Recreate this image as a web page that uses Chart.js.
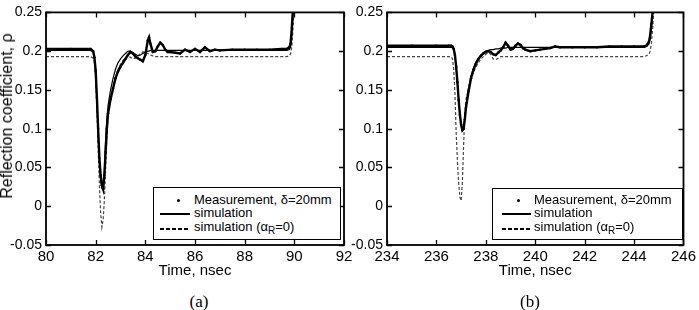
<!DOCTYPE html>
<html>
<head>
<meta charset="utf-8">
<script src="https://cdn.jsdelivr.net/npm/chart.js@4.4.1/dist/chart.umd.min.js"></script>
<style>
    body { margin: 0; background: #fff; width: 699px; height: 310px; position: relative; overflow: hidden;
           font-family: "Liberation Sans", Arial, sans-serif; color: #000; }
    canvas { position: absolute; top: 0; }
    #plotA { left: 0; }
    #plotB { left: 350px; }
    .legend { position: absolute; box-sizing: border-box; border: 1px solid #000; background: #fff; font-size: 13px; }
    .legend .txt { position: absolute; white-space: nowrap; line-height: 14px; }
    .legend .dot { position: absolute; width: 3px; height: 3px; background: #000; border-radius: 50%; }
    .legend .solid { position: absolute; height: 2px; background: #000; }
    .legend .dash { position: absolute; height: 2px;
                    background: repeating-linear-gradient(90deg, #000 0 4px, transparent 4px 6px); }
    .legend sub { font-size: 10px; vertical-align: -3px; line-height: 0; }
    .ytitle { position: absolute; left: 7px; top: 116px; font-size: 16px; white-space: nowrap;
              transform: translate(-50%, -50%) rotate(-90deg); }
    .caption { position: absolute; top: 302px; font-family: "Liberation Serif", "Times New Roman", serif;
               font-size: 17px; transform: translate(-50%, -50%); }
</style>
</head>
<body>
<canvas id="plotA" width="362" height="290"></canvas>
<canvas id="plotB" width="349" height="290"></canvas>

<div class="ytitle">Reflection coefficient, ρ</div>

<div class="legend" style="left:153px;top:187px;width:188px;height:53px">
    <span class="dot" style="left:23px;top:11px"></span>
    <span class="txt" style="left:40px;top:5px">Measurement, δ=20mm</span>
    <span class="solid" style="left:6px;top:25px;width:30px"></span>
    <span class="txt" style="left:40px;top:18px">simulation</span>
    <span class="dash" style="left:6px;top:40px;width:30px"></span>
    <span class="txt" style="left:40px;top:32px">simulation (α<sub>R</sub>=0)</span>
</div>
<div class="legend" style="left:492px;top:188px;width:191px;height:52px">
    <span class="dot" style="left:24px;top:10px"></span>
    <span class="txt" style="left:41px;top:4px">Measurement, δ=20mm</span>
    <span class="solid" style="left:9px;top:24px;width:29px"></span>
    <span class="txt" style="left:41px;top:17px">simulation</span>
    <span class="dash" style="left:9px;top:39px;width:29px"></span>
    <span class="txt" style="left:41px;top:31px">simulation (α<sub>R</sub>=0)</span>
</div>

<div class="caption" style="left:199px">(a)</div>
<div class="caption" style="left:530px">(b)</div>

<script>
// (a) first reflection, 80-92 ns
const timeA = [80, 81, 81.8, 81.9, 81.95, 82.0, 82.05, 82.1, 82.15, 82.2,
    82.25, 82.3, 82.35, 82.4, 82.45, 82.5, 82.6, 82.7, 82.8, 82.9,
    83.0, 83.1, 83.2, 83.3, 83.4, 83.5, 83.6, 83.7, 83.8, 83.9,
    84.0, 84.1, 84.15, 84.2, 84.3, 84.4, 84.5, 84.6, 84.7, 84.8,
    84.9, 85.0, 85.2, 85.4, 85.6, 85.8, 86.0, 86.2, 86.4, 86.6,
    86.8, 87.0, 87.5, 88, 88.5, 89, 89.5, 89.7, 89.8, 89.85,
    89.9, 89.95, 90.0];
const measA = [0.203, 0.203, 0.203, 0.200, 0.192, 0.175, 0.140, 0.100, 0.062, 0.040,
    0.027, 0.022, 0.040, 0.070, 0.100, 0.120, 0.138, 0.152, 0.165, 0.174,
    0.180, 0.185, 0.190, 0.195, 0.199, 0.197, 0.193, 0.191, 0.189, 0.187,
    0.195, 0.214, 0.218, 0.210, 0.199, 0.200, 0.206, 0.211, 0.208, 0.202,
    0.199, 0.199, 0.198, 0.197, 0.202, 0.199, 0.203, 0.199, 0.205, 0.200,
    0.202, 0.201, 0.202, 0.202, 0.202, 0.202, 0.203, 0.203, 0.205, 0.210,
    0.230, 0.260, 0.300];
const simA = [0.201, 0.201, 0.201, 0.199, 0.190, 0.172, 0.135, 0.092, 0.056, 0.034,
    0.023, 0.022, 0.045, 0.085, 0.113, 0.130, 0.150, 0.165, 0.177, 0.185,
    0.190, 0.194, 0.197, 0.200, 0.200, 0.198, 0.196, 0.194, 0.195, 0.197,
    0.199, 0.200, 0.200, 0.201, 0.201, 0.201, 0.201, 0.201, 0.201, 0.201,
    0.201, 0.201, 0.201, 0.201, 0.201, 0.201, 0.201, 0.201, 0.201, 0.201,
    0.201, 0.201, 0.201, 0.201, 0.201, 0.201, 0.201, 0.201, 0.202, 0.206,
    0.222, 0.250, 0.290];
const simNoLossA = [0.193, 0.193, 0.193, 0.191, 0.185, 0.165, 0.125, 0.075, 0.028, -0.008,
    -0.027, -0.018, 0.008, 0.048, 0.088, 0.115, 0.140, 0.155, 0.167, 0.176,
    0.183, 0.188, 0.192, 0.194, 0.192, 0.190, 0.191, 0.194, 0.197, 0.199,
    0.199, 0.197, 0.196, 0.195, 0.194, 0.193, 0.193, 0.193, 0.193, 0.193,
    0.193, 0.193, 0.193, 0.193, 0.193, 0.193, 0.193, 0.193, 0.193, 0.193,
    0.193, 0.193, 0.193, 0.193, 0.193, 0.193, 0.193, 0.193, 0.194, 0.197,
    0.206, 0.230, 0.270];

// (b) second reflection, 234-246 ns
const timeB = [234, 235, 236, 236.5, 236.6, 236.65, 236.7, 236.75, 236.8, 236.85,
    236.9, 236.95, 237.0, 237.05, 237.1, 237.15, 237.2, 237.3, 237.4, 237.5,
    237.6, 237.7, 237.8, 237.9, 238.0, 238.1, 238.2, 238.3, 238.4, 238.5,
    238.6, 238.7, 238.8, 238.9, 239.0, 239.1, 239.2, 239.3, 239.4, 239.5,
    239.6, 239.8, 240.0, 240.2, 240.4, 240.6, 240.8, 241.0, 241.5, 242,
    242.5, 243, 243.5, 244, 244.4, 244.5, 244.6, 244.65, 244.7, 244.75,
    244.8, 245];
const measB = [0.207, 0.207, 0.207, 0.207, 0.207, 0.206, 0.203, 0.195, 0.180, 0.160,
    0.137, 0.118, 0.105, 0.098, 0.100, 0.112, 0.128, 0.148, 0.165, 0.176,
    0.184, 0.190, 0.194, 0.197, 0.199, 0.200, 0.199, 0.196, 0.195, 0.198,
    0.201, 0.205, 0.211, 0.207, 0.202, 0.203, 0.207, 0.210, 0.208, 0.204,
    0.202, 0.200, 0.201, 0.202, 0.203, 0.204, 0.206, 0.205, 0.205, 0.205,
    0.205, 0.206, 0.206, 0.206, 0.206, 0.207, 0.212, 0.220, 0.235, 0.250,
    0.270, 0.320];
const simB = [0.205, 0.205, 0.205, 0.205, 0.205, 0.204, 0.202, 0.193, 0.178, 0.158,
    0.138, 0.120, 0.107, 0.100, 0.103, 0.115, 0.130, 0.152, 0.168, 0.178,
    0.186, 0.191, 0.195, 0.198, 0.200, 0.201, 0.202, 0.202, 0.203, 0.203,
    0.204, 0.204, 0.204, 0.205, 0.205, 0.205, 0.205, 0.205, 0.205, 0.205,
    0.205, 0.205, 0.205, 0.205, 0.205, 0.205, 0.205, 0.205, 0.205, 0.205,
    0.205, 0.205, 0.205, 0.205, 0.205, 0.206, 0.209, 0.216, 0.230, 0.248,
    0.265, 0.320];
const simNoLossB = [0.193, 0.193, 0.193, 0.193, 0.193, 0.190, 0.177, 0.145, 0.095, 0.058,
    0.030, 0.012, 0.007, 0.030, 0.078, 0.122, 0.138, 0.152, 0.164, 0.173,
    0.180, 0.185, 0.190, 0.193, 0.196, 0.198, 0.196, 0.190, 0.189, 0.191,
    0.193, 0.193, 0.193, 0.193, 0.193, 0.193, 0.193, 0.193, 0.193, 0.193,
    0.193, 0.193, 0.193, 0.193, 0.193, 0.193, 0.193, 0.193, 0.193, 0.193,
    0.193, 0.193, 0.193, 0.193, 0.193, 0.194, 0.196, 0.200, 0.210, 0.228,
    0.255, 0.330];

const yRange = [-0.05, 0.25];
const xRangeA = [80, 92];
const xRangeB = [234, 246];

Chart.defaults.font.family = "'Liberation Sans', Arial, sans-serif";
Chart.defaults.color = "#000";

// matlab-like box with inward ticks on all four sides
const boxTicks = {
    id: "boxTicks",
    afterDatasetsDraw(chart) {
        const { ctx, chartArea: a, scales: { x, y } } = chart;
        const len = 5;
        ctx.save();
        ctx.strokeStyle = "#000";
        ctx.lineWidth = 1.3;
        ctx.beginPath();
        x.ticks.forEach((t) => {
            const px = Math.round(x.getPixelForValue(t.value)) + 0.5;
            ctx.moveTo(px, a.bottom);
            ctx.lineTo(px, a.bottom - len);
            ctx.moveTo(px, a.top);
            ctx.lineTo(px, a.top + len);
        });
        y.ticks.forEach((t) => {
            const py = Math.round(y.getPixelForValue(t.value)) + 0.5;
            ctx.moveTo(a.left, py);
            ctx.lineTo(a.left + len, py);
            ctx.moveTo(a.right, py);
            ctx.lineTo(a.right - len, py);
        });
        ctx.stroke();
        ctx.lineWidth = 1.8;
        ctx.strokeRect(a.left, a.top, a.right - a.left, a.bottom - a.top);
        ctx.restore();
    },
};

const pairs = (xs, ys) => xs.map((t, i) => ({ x: t, y: ys[i] }));

function drawPlot(id, times, meas, sim, simNoLoss, xRange, yAxisWidth, padRight) {
    return new Chart(document.getElementById(id), {
        type: "line",
        data: {
            datasets: [
                {
                    label: "Measurement, δ=20mm",
                    data: pairs(times, meas),
                    borderColor: "#000",
                    borderWidth: 2.4,
                    pointRadius: 1.2,
                    pointBackgroundColor: "#000",
                    pointBorderWidth: 0,
                },
                {
                    label: "simulation",
                    data: pairs(times, sim),
                    borderColor: "#000",
                    borderWidth: 1.2,
                    pointRadius: 0,
                },
                {
                    label: "simulation (αR=0)",
                    data: pairs(times, simNoLoss),
                    borderColor: "#444",
                    borderWidth: 1.2,
                    borderDash: [3, 2],
                    pointRadius: 0,
                },
            ],
        },
        options: {
            responsive: false,
            animation: false,
            layout: { padding: { top: 8, right: padRight, left: 0, bottom: 0 } },
            elements: { line: { tension: 0 } },
            plugins: { legend: { display: false }, tooltip: { enabled: false } },
            scales: {
                x: {
                    type: "linear",
                    min: xRange[0],
                    max: xRange[1],
                    grid: { display: false, drawTicks: false },
                    border: { display: false },
                    ticks: { stepSize: 2, padding: 3, maxRotation: 0, autoSkip: false, font: { size: 15 } },
                    title: { display: true, text: "Time, nsec", font: { size: 15 }, padding: { top: 0, bottom: 10 } },
                    afterFit: (s) => { s.height = 45; },
                },
                y: {
                    min: yRange[0],
                    max: yRange[1],
                    grid: { display: false, drawTicks: false },
                    border: { display: false },
                    ticks: {
                        stepSize: 0.05,
                        padding: 4,
                        font: { size: 14 },
                        callback: (v) => String(+v.toFixed(2)),
                    },
                    afterFit: (s) => { s.width = yAxisWidth; },
                },
            },
        },
        plugins: [boxTicks],
    });
}

drawPlot("plotA", timeA, measA, simA, simNoLossA, xRangeA, 46, 18);
drawPlot("plotB", timeB, measB, simB, simNoLossB, xRangeB, 37, 15);
</script>
</body>
</html>
